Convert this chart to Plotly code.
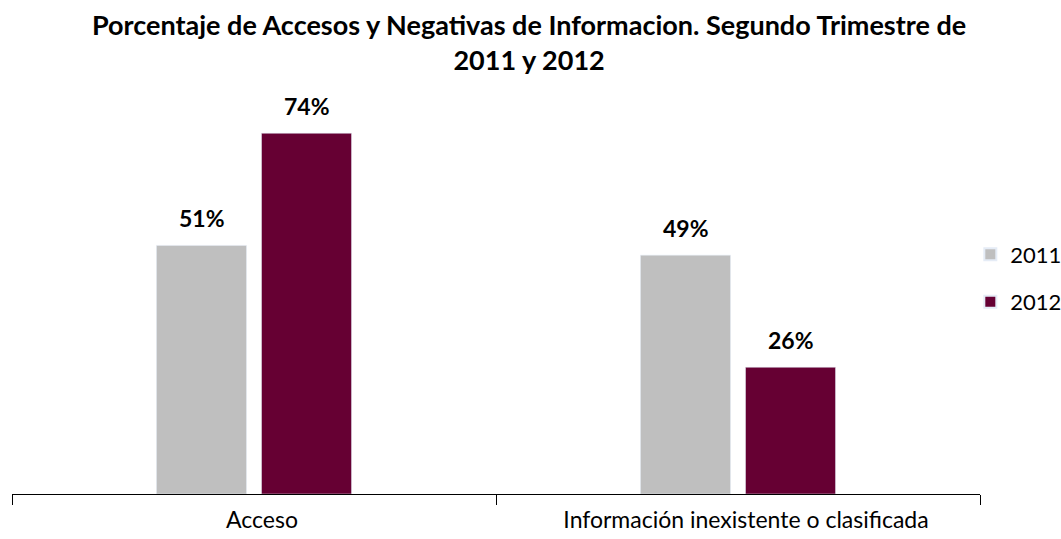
import plotly.graph_objects as go

categories = ["Acceso", "Información inexistente o clasificada"]
series_names = ["2011", "2012"]
values_2011 = [51, 49]
values_2012 = [74, 26]
colors = ["#BFBFBF", "#660033"]

fig = go.Figure()
offsets = [-52.5, 52.5]
for name, vals, col, off in zip(series_names, [values_2011, values_2012], colors, offsets):
    fig.add_trace(go.Bar(
        x=categories, y=vals, name=name, marker_color=col, legendgroup=name,
    ))
    for c, v in zip(categories, vals):
        fig.add_annotation(x=c, y=v, xref="x", yref="y", text=f"<b>{v}%</b>",
                           showarrow=False, xshift=off, yshift=27,
                           font=dict(size=23, color="black", family="Lato"))

fig.add_annotation(
    text="<b>Porcentaje de Accesos y Negativas de Informacion. Segundo Trimestre de<br>2011 y 2012</b>",
    xref="paper", yref="paper", x=0.534, y=1.158, xanchor="center", yanchor="middle",
    showarrow=False, font=dict(size=27, family="Lato", color="black"),
)

fig.update_layout(
    width=1061, height=539,
    paper_bgcolor="white", plot_bgcolor="white",
    font=dict(family="Lato", color="black"),
    barmode="group", bargap=0.566, bargroupgap=0.143,
    margin=dict(l=12, r=81, t=104, b=45, autoexpand=False),
    showlegend=True,
    legend=dict(x=0.99, xanchor="left", y=0.553, yanchor="middle",
                font=dict(size=22), itemsizing="constant", itemwidth=30,
                tracegroupgap=16),
    xaxis=dict(showline=True, linecolor="black", linewidth=1,
               ticks="outside", tickson="boundaries", ticklen=10,
               tickcolor="black", tickfont=dict(size=23), automargin=False,
               ticklabelstandoff=5, ticklabelshift=8),
    yaxis=dict(range=[0, 80], visible=False, showgrid=False),
)
fig.write_html("out.html", post_script="document.body.style.margin='0';",
               config={"displayModeBar": False})
